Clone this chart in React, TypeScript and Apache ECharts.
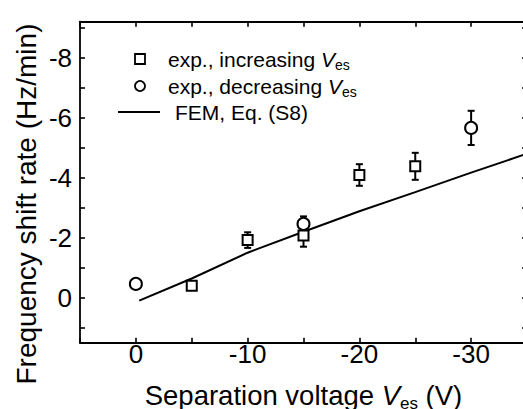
import React, { useEffect, useRef } from "react";
import * as echarts from "echarts";

// Data
const incX = [-5, -10, -15, -20, -25];
const incY = [-0.40, -1.92, -2.07, -4.09, -4.38];
const incErr = [0.12, 0.26, 0.37, 0.36, 0.45];

const decX = [0, -15, -30];
const decY = [-0.46, -2.46, -5.66];
const decErr = [0.08, 0.25, 0.57];

const femX = [-0.3, -5, -10, -15, -20, -25, -30, -35];
const femY = [0.1, -0.64, -1.5, -2.2, -2.88, -3.52, -4.17, -4.8];

const xLabels = [0, -10, -20, -30];
const xTicks = [5, 0, -5, -10, -15, -20, -25, -30, -35];
const yLabels = [0, -2, -4, -6, -8];
const yTicks = [1, 0, -1, -2, -3, -4, -5, -6, -7, -8, -9];

const FONT = "'Liberation Sans', Arial, sans-serif";

export default function App() {
  const ref = useRef<HTMLDivElement>(null);
  useEffect(() => {
    if (!ref.current) return;
    const chart = echarts.init(ref.current, undefined, { renderer: "svg" });

    const zip = (xs: number[], ys: number[], es?: number[]) =>
      xs.map((x, i) => (es ? [x, ys[i], es[i]] : [x, ys[i]]));

    const axLine = { show: true, onZero: false, lineStyle: { color: "#000", width: 1.8 } };
    const xBase = { type: "value", min: -35, max: 5, inverse: true, splitLine: { show: false } };
    const yBase = { type: "value", min: -9.2, max: 1.5, inverse: true, splitLine: { show: false } };

    const tick = (vals: number[], len: number) => ({
      show: true,
      inside: true,
      length: len,
      customValues: vals,
      lineStyle: { color: "#000", width: 1.6 },
    });

    const rich = (fs: number, sub: number) => ({
      n: { fontSize: fs, fontFamily: FONT, color: "#000", lineHeight: fs + 5 },
      i: { fontSize: fs, fontFamily: FONT, color: "#000", fontStyle: "italic", lineHeight: fs + 5 },
      s: { fontSize: sub, fontFamily: FONT, color: "#000", lineHeight: sub, verticalAlign: "bottom" },
    });

    const errRender = (params: any, api: any) => {
      const x = api.value(0);
      const y = api.value(1);
      const e = api.value(2);
      const t = api.coord([x, y - e]);
      const b = api.coord([x, y + e]);
      const hw = 3.5;
      const st = { stroke: "#000", lineWidth: 2 };
      return {
        type: "group",
        children: [
          { type: "line", shape: { x1: t[0], y1: t[1], x2: b[0], y2: b[1] }, style: st },
          { type: "line", shape: { x1: t[0] - hw, y1: t[1], x2: t[0] + hw, y2: t[1] }, style: st },
          { type: "line", shape: { x1: b[0] - hw, y1: b[1], x2: b[0] + hw, y2: b[1] }, style: st },
        ],
      };
    };

    chart.setOption({
      animation: false,
      grid: { left: 80, top: 21.7, right: -4, bottom: 66.3, outerBoundsMode: "none" },
      xAxis: [
        {
          ...xBase,
          position: "bottom",
          axisLine: axLine,
          axisTick: tick(xTicks, 5),
          axisLabel: {
            customValues: xLabels,
            fontSize: 26,
            fontFamily: FONT,
            color: "#000",
            margin: -2,
          },
          name: "{n|Separation voltage }{i|V}{s|es}{n| (V)}",
          nameLocation: "middle",
          nameGap: 37,
          nameMoveOverlap: false,
          nameTextStyle: { rich: rich(27.5, 17) },
        },
        { ...xBase, position: "top", axisLine: axLine, axisTick: tick(xTicks, 5), axisLabel: { show: false } },
      ],
      yAxis: [
        {
          ...yBase,
          position: "left",
          axisLine: axLine,
          axisTick: tick(yTicks, 5),
          axisLabel: {
            customValues: yLabels,
            fontSize: 26,
            fontFamily: FONT,
            color: "#000",
            margin: 8,
          },
        },
        { ...yBase, position: "right", axisLine: axLine, axisTick: tick(yTicks, 5), axisLabel: { show: false } },
      ],
      series: [
        {
          type: "line",
          name: "FEM, Eq. (S8)",
          data: zip(femX, femY),
          showSymbol: false,
          symbol: "none",
          lineStyle: { color: "#000", width: 2 },
          z: 2,
        },
        {
          type: "custom",
          name: "inc err",
          data: zip(incX, incY, incErr),
          renderItem: errRender,
          encode: { x: 0, y: 1 },
          z: 3,
        },
        {
          type: "custom",
          name: "dec err",
          data: zip(decX, decY, decErr),
          renderItem: errRender,
          encode: { x: 0, y: 1 },
          z: 3,
        },
        {
          type: "scatter",
          name: "exp., increasing Ves",
          data: zip(incX, incY),
          symbol: "rect",
          symbolSize: 10,
          itemStyle: { color: "#fff", borderColor: "#000", borderWidth: 2, opacity: 1 },
          z: 5,
        },
        {
          type: "scatter",
          name: "exp., decreasing Ves",
          data: zip(decX, decY),
          symbol: "circle",
          symbolSize: 12,
          itemStyle: { color: "#fff", borderColor: "#000", borderWidth: 2, opacity: 1 },
          z: 5,
        },
      ],
      graphic: [
        {
          type: "text",
          x: 26,
          y: 204,
          rotation: Math.PI / 2,
          style: {
            text: "Frequency shift rate (Hz/min)",
            fontSize: 28,
            fontFamily: FONT,
            fill: "#000",
            align: "center",
            verticalAlign: "middle",
          },
        },
        {
          type: "rect",
          shape: { x: 135, y: 54, width: 10, height: 10 },
          style: { fill: "#fff", stroke: "#000", lineWidth: 1.8 },
        },
        {
          type: "circle",
          shape: { cx: 140, cy: 86, r: 5 },
          style: { fill: "#fff", stroke: "#000", lineWidth: 1.8 },
        },
        {
          type: "line",
          shape: { x1: 118, y1: 112, x2: 160, y2: 112 },
          style: { stroke: "#000", lineWidth: 2 },
        },
        {
          type: "text",
          x: 168,
          y: 59,
          style: {
            text: "{n|exp., increasing }{i|V}{s|es}",
            rich: rich(21, 14),
            verticalAlign: "middle",
          },
        },
        {
          type: "text",
          x: 168,
          y: 86,
          style: {
            text: "{n|exp., decreasing }{i|V}{s|es}",
            rich: rich(21, 14),
            verticalAlign: "middle",
          },
        },
        {
          type: "text",
          x: 175,
          y: 112,
          style: {
            text: "FEM, Eq. (S8)",
            fontSize: 21,
            fontFamily: FONT,
            fill: "#000",
            verticalAlign: "middle",
          },
        },
      ],
    });
    return () => chart.dispose();
  }, []);
  return (
    <div
      ref={ref}
      style={{ position: "absolute", left: 0, top: 0, width: 523, height: 409, background: "#fff" }}
    />
  );
}
